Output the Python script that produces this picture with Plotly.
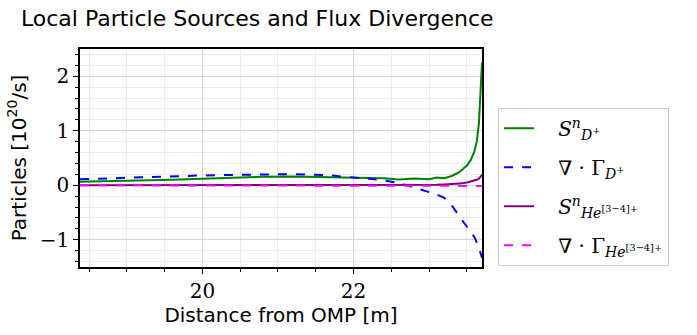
import plotly.graph_objects as go

# Distance along the field line from the outer midplane [m]
distance = [18.38, 18.8, 19.2, 19.6, 20.0, 20.4, 20.8, 21.2, 21.6, 22.0, 22.2, 22.4,
            22.6, 22.8, 23.0, 23.1, 23.2, 23.3, 23.4, 23.5, 23.55, 23.6, 23.63,
            23.66, 23.68, 23.70]

# Particle rates [1e20 /s]
s_d = [0.066, 0.075, 0.09, 0.10, 0.12, 0.14, 0.155, 0.16, 0.155, 0.14, 0.135, 0.13,
       0.105, 0.125, 0.11, 0.14, 0.13, 0.17, 0.24, 0.36, 0.46, 0.62, 0.80, 1.15,
       1.7, 2.25]
div_d = [0.11, 0.13, 0.15, 0.17, 0.18, 0.19, 0.20, 0.205, 0.19, 0.15, 0.12, 0.09,
         0.04, -0.04, -0.12, -0.17, -0.23, -0.37, -0.57, -0.76, -0.85, -0.95, -1.05,
         -1.15, -1.24, -1.33]
s_he = [0.0, 0.0, 0.0, 0.0, 0.0, 0.0, 0.0, 0.0, 0.0, 0.0, 0.0, 0.002, 0.003, 0.004,
        0.006, 0.01, 0.015, 0.02, 0.03, 0.05, 0.065, 0.08, 0.10, 0.12, 0.15, 0.19]
div_he = [0.0, 0.0, 0.0, 0.0, 0.0, 0.0, 0.0, 0.0, 0.0, 0.0, 0.0, 0.0, 0.0, 0.0,
          0.0, 0.0, -0.002, -0.003, -0.004, -0.005, -0.006, -0.007, -0.008, -0.009,
          -0.01, -0.012]

pad = "\u00a0\u00a0\u00a0"
names = [
    pad + "<i>S</i><sup><i>n</i></sup><sub><i>D</i><sup>+</sup></sub>",
    pad + "∇ · Γ<sub><i>D</i><sup>+</sup></sub>",
    pad + "<i>S</i><sup><i>n</i></sup><sub><i>He</i><sup>[3−4]+</sup></sub>",
    pad + "∇ · Γ<sub><i>He</i><sup>[3−4]+</sup></sub>",
]
series = [s_d, div_d, s_he, div_he]
colors = ["#008000", "#0000ff", "#800080", "#ff00ff"]
dashes = ["solid", "dash", "solid", "dash"]

fig = go.Figure()
for i, (name, vals, col, dash) in enumerate(zip(names, series, colors, dashes)):
    fig.add_trace(go.Scatter(x=distance, y=vals, mode="lines", name=name,
                             legendgroup=f"g{i}",
                             line=dict(color=col, width=2, dash=dash)))

serif = "DejaVu Serif"
sans = "DejaVu Sans"

axis_common = dict(
    showline=True, linecolor="black", linewidth=1.5, mirror=True,
    ticks="outside", ticklen=5, tickcolor="black",
    showgrid=True, gridcolor="#d4d4d4", gridwidth=1,
    zeroline=False,
    tickfont=dict(family=serif, size=20, color="black"),
)

fig.update_layout(
    width=697, height=335,
    margin=dict(l=80, r=215, t=49, b=63),
    paper_bgcolor="white", plot_bgcolor="white",
    title=dict(text="Local Particle Sources and Flux Divergence",
               x=0.03, xanchor="left", y=0.945, yanchor="middle",
               font=dict(family=sans, size=22, color="black")),
    xaxis=dict(range=[18.38, 23.70], dtick=2, tick0=20,
               minor=dict(dtick=0.5, tick0=20, ticks="outside", ticklen=3,
                          showgrid=True, gridcolor="#ebebeb"),
               title=dict(text="Distance from OMP [m]", standoff=6,
                          font=dict(family=sans, size=20, color="black")),
               **axis_common),
    yaxis=dict(range=[-1.5, 2.5], dtick=1, tick0=0,
               minor=dict(dtick=0.2, tick0=0, ticks="outside", ticklen=3,
                          showgrid=True, gridcolor="#ebebeb"),
               title=dict(text="Particles [10<sup>20</sup>/s]", standoff=8,
                          font=dict(family=sans, size=20, color="black")),
               **axis_common),
    legend=dict(x=1.04, xanchor="left", y=0.73, yanchor="top",
                bgcolor="white", bordercolor="#cccccc", borderwidth=1,
                font=dict(family=serif, size=20, color="black"),
                tracegroupgap=10, entrywidth=260, entrywidthmode="pixels"),
    showlegend=True,
)

fig.write_html("out.html")
